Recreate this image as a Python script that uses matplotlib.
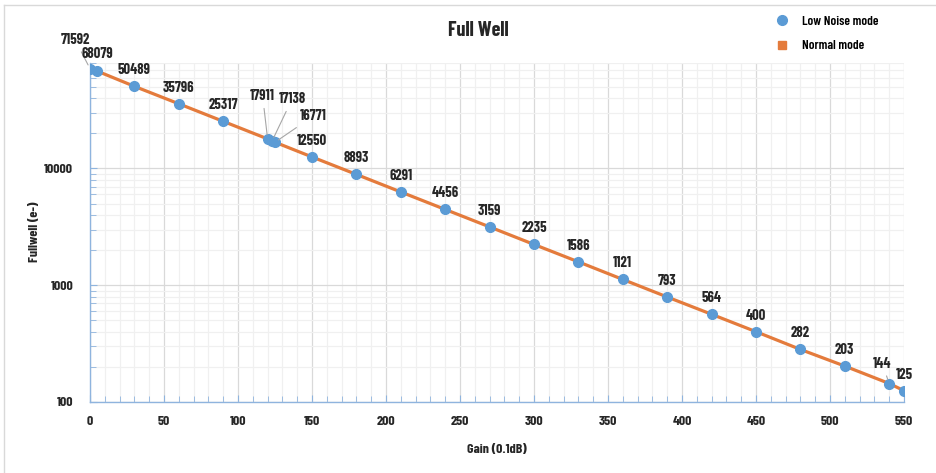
import matplotlib
matplotlib.use("Agg")
import matplotlib.pyplot as plt
from matplotlib.ticker import MultipleLocator, LogLocator, FixedLocator, NullFormatter
from matplotlib.lines import Line2D

plt.rcParams['font.family'] = ['Barlow Condensed', 'DejaVu Sans']
plt.rcParams['font.weight'] = 700

gain = [0, 5, 30, 60, 90, 120, 123, 125, 150, 180, 210, 240, 270, 300, 330,
        360, 390, 420, 450, 480, 510, 540, 550]
fullwell = [71592, 68079, 50489, 35796, 25317, 17911, 17138, 16771, 12550, 8893,
            6291, 4456, 3159, 2235, 1586, 1121, 793, 564, 400, 282, 203, 144, 125]
xticks = [0, 50, 100, 150, 200, 250, 300, 350, 400, 450, 500, 550]
yticks = [100, 1000, 10000]
ytick_labels = ["100", "1000", "10000"]

blue = '#5B9BD5'
orange = '#E47B3C'
txt = '#262626'

fig = plt.figure(figsize=(9.37, 4.73), dpi=100)
W, H = 937, 473
ax = fig.add_axes([90 / W, 1 - 402 / H, (904 - 90) / W, (402 - 63) / H])

ax.plot(gain, fullwell, color=orange, lw=2.3, marker='s', ms=5, zorder=3,
        label='Normal mode')
ax.plot(gain, fullwell, ls='none', marker='o', ms=7, color=blue, zorder=4,
        label='Low Noise mode')

ax.set_yscale('log')
ax.set_xlim(0, 550)
ax.set_ylim(100, 80000)
ax.xaxis.set_major_locator(FixedLocator(xticks))
ax.xaxis.set_minor_locator(MultipleLocator(10))
ax.yaxis.set_major_locator(FixedLocator(yticks))
ax.set_yticklabels(ytick_labels)
ax.yaxis.set_minor_locator(LogLocator(base=10, subs=range(2, 10)))
ax.yaxis.set_minor_formatter(NullFormatter())

ax.grid(True, which='major', color='#d9d9d9', lw=0.9, zorder=0)
ax.grid(True, which='minor', color='#f0f0f0', lw=0.9, zorder=0)
ax.set_axisbelow(True)
for s in ['top', 'right']:
    ax.spines[s].set_visible(False)
for s in ['left', 'bottom']:
    ax.spines[s].set_color('#8fb4de')
    ax.spines[s].set_linewidth(1.0)
ax.tick_params(which='both', direction='in', color='#8fb4de', labelsize=10,
               labelcolor=txt)
ax.tick_params(which='major', length=5)
ax.tick_params(which='minor', length=4)
ax.tick_params(axis='x', pad=10)
ax.tick_params(axis='y', pad=12)
for lab in ax.get_xticklabels() + ax.get_yticklabels():
    lab.set_fontweight(700)

# data labels
special = {
    0: (-15, 29, True),
    5: (0, 17, False),
    120: (-5, 43, True),
    123: (20, 42, True),
    125: (38, 26, True),
    540: (-7, 20, True),
}
for g, v in zip(gain, fullwell):
    dx, dy, lead = special.get(g, (0, 16, False))
    ax.annotate(str(v), (g, v), xytext=(dx, dy), textcoords='offset pixels',
                ha='center', va='center', fontsize=10.5, fontweight=700,
                color=txt, zorder=5,
                arrowprops=dict(arrowstyle='-', color='#a6a6a6', lw=0.8,
                                shrinkA=2, shrinkB=3) if lead else None)

fig.text(478 / W, 1 - 30 / H, 'Full Well', ha='center', va='center',
         fontsize=14.5, fontweight=700, color=txt)
fig.text(497 / W, 1 - 449 / H, 'Gain (0.1dB)', ha='center', va='center',
         fontsize=10, fontweight=700, color=txt)
fig.text(35 / W, 1 - 232 / H, 'Fullwell (e-)', ha='center', va='center',
         rotation=90, fontsize=10, fontweight=700, color=txt)

handles = [Line2D([], [], ls='none', marker='o', color=blue, ms=7),
           Line2D([], [], ls='none', marker='s', color=orange, ms=6)]
fig.legend(handles, ['Low Noise mode', 'Normal mode'], loc='center left',
           bbox_to_anchor=(757 / W, 1 - 34 / H), frameon=False,
           labelspacing=0.9, handletextpad=0.5, prop={'weight': 600, 'size': 9.5,
                                                      'family': ['Barlow Condensed', 'DejaVu Sans']})

fig.add_artist(Line2D([4 / W, 4 / W], [0, 1 - 5 / H], color='#d9d9d9', lw=1,
                      transform=fig.transFigure))
fig.add_artist(Line2D([4 / W, 1], [1 - 5 / H, 1 - 5 / H], color='#d9d9d9', lw=1,
                      transform=fig.transFigure))

fig.savefig('out.png', dpi=100)
